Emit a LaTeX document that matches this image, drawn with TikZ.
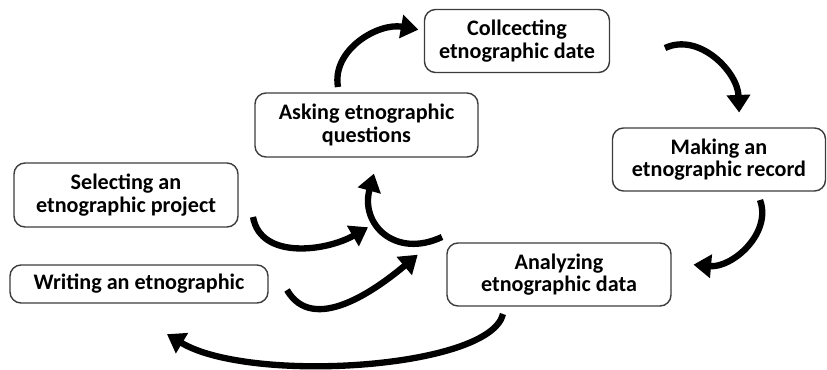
\documentclass[tikz,border=0pt]{standalone}
\usepackage{fontspec}
\setmainfont{Carlito}
\usepackage{xcolor}
\definecolor{boxLine}{RGB}{60,60,60}
\usepackage{tikz}
\usetikzlibrary{arrows.meta,positioning,calc}
\tikzstyle{stagebox}=[draw=boxLine, line width=0.8pt, rounded corners=0.22cm, align=center, font=\fontsize{12.6}{12.8}\selectfont\bfseries, inner sep=0pt]
\tikzstyle{bentarrow}=[line width=3.6pt, -{Triangle[length=10pt,width=13pt]}, shorten >=-2pt]

\begin{document}
\begin{tikzpicture}
    \useasboundingbox (0,0) rectangle (16.54,7.38);

    % Etapas
    \node[stagebox, minimum width=3.7cm, minimum height=1.26cm]  (collect) at (10.34, 6.56) {Collcecting\\etnographic date};
    \node[stagebox, minimum width=4.46cm, minimum height=1.28cm] (ask)     at (7.33, 4.88)  {Asking etnographic\\questions};
    \node[stagebox, minimum width=4.48cm, minimum height=1.28cm] (select)  at (2.52, 3.48)  {Selecting an\\etnographic project};
    \node[stagebox, minimum width=4.26cm, minimum height=1.26cm] (record)  at (14.38, 4.19) {Making an\\etnographic record};
    \node[stagebox, minimum width=4.48cm, minimum height=1.26cm] (analyze) at (11.18, 1.89) {Analyzing\\etnographic data};
    \node[stagebox, minimum width=5.16cm, minimum height=0.76cm] (write)   at (2.78, 1.70)  {Writing an etnographic};

    % Pontas livres das setas
    \coordinate (a1) at (6.76, 5.64);  \coordinate (b1) at (8.30, 6.80);
    \coordinate (a2) at (13.30, 6.42); \coordinate (b2) at (14.78, 5.20);
    \coordinate (a3) at (15.20, 3.38); \coordinate (b3) at (13.94, 2.08);
    \coordinate (a4) at (10.06, 1.10); \coordinate (b4) at (3.40, 0.66);
    \coordinate (a5) at (5.06, 3.04);  \coordinate (b5) at (7.30, 2.80);
    \coordinate (a6) at (8.84, 2.64);  \coordinate (b6) at (7.46, 3.84);
    \coordinate (a7) at (5.74, 1.58);  \coordinate (b7) at (8.30, 2.24);

    % Setas curvas do ciclo
    \draw[bentarrow] (a1) to[out=100, in=170] (b1);
    \draw[bentarrow] (a2) to[out=25, in=92] (b2);
    \draw[bentarrow] (a3) to[out=-70, in=-5] (b3);
    \draw[bentarrow] (a4) .. controls (9.8, 0.0) and (5.0, -0.3) .. (b4);
    \draw[bentarrow] (a5) to[out=-80, in=210] (b5);
    \draw[bentarrow] (a6) .. controls (7.9, 2.2) and (7.2, 2.9) .. (b6);
    \draw[bentarrow] (a7) to[out=-60, in=220] (b7);
\end{tikzpicture}
\end{document}
